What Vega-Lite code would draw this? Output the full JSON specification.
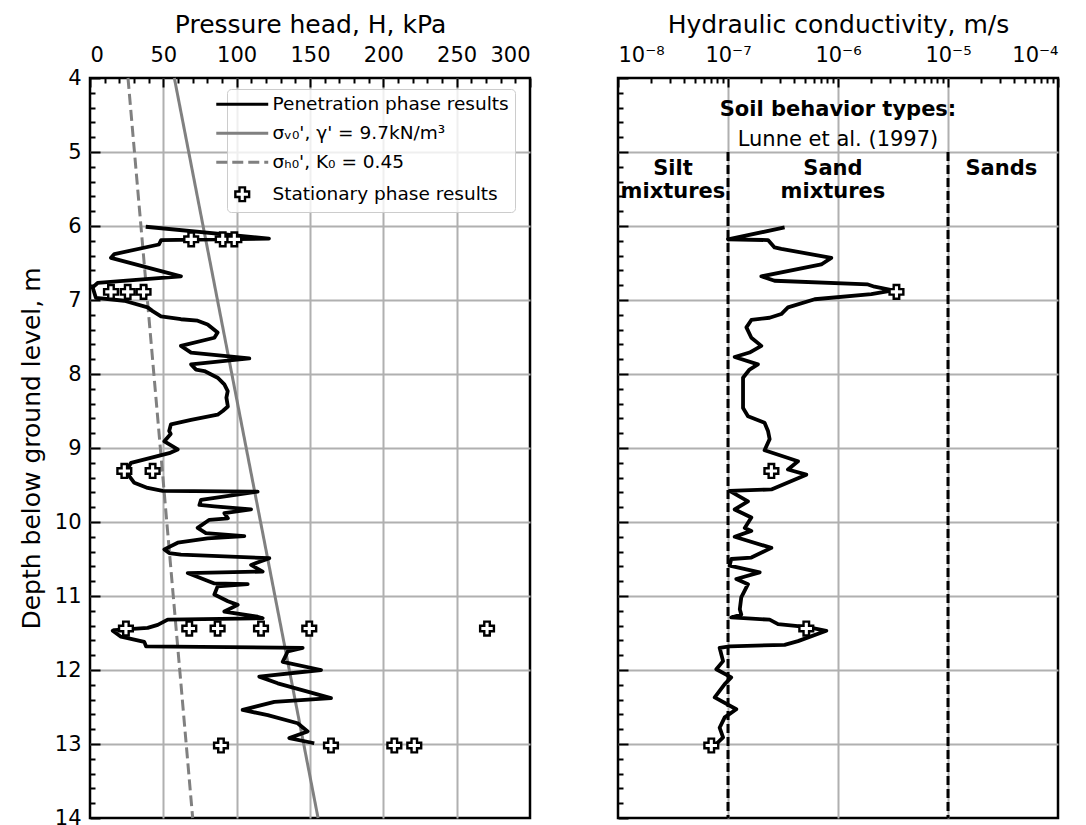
{
  "$schema": "https://vega.github.io/schema/vega-lite/v6.json",
  "padding": {"left": 18, "top": 10, "right": 5, "bottom": 5},
  "background": "white",
  "spacing": 82,
  "config": {
    "font": "DejaVu Sans",
    "view": {"stroke": "black", "strokeWidth": 2.5},
    "axis": {
      "labelFont": "DejaVu Sans", "labelFontSize": 21, "labelColor": "black",
      "titleFont": "DejaVu Sans", "titleFontSize": 25, "titleFontWeight": "normal", "titleColor": "black",
      "ticks": true, "tickColor": "black", "tickWidth": 2, "tickOpacity": 1, "gridColor": "#b0b0b0", "gridWidth": 2,
      "domain": false, "labelOverlap": false, "labelBound": false
    }
  },
  "resolve": {"scale": {"stroke": "independent"}, "legend": {"stroke": "independent"}},
  "datasets": {
    "pen": [
      {"H":38,"d":6.01},{"H":122,"d":6.17},{"H":48.5,"d":6.19},{"H":47,"d":6.25},{"H":16.6,"d":6.38},{"H":14.3,"d":6.43},
      {"H":62,"d":6.68},{"H":5.2,"d":6.77},{"H":1.8,"d":6.83},{"H":4,"d":6.97},{"H":23.4,"d":7.01},{"H":39.3,"d":7.10},
      {"H":42.7,"d":7.15},{"H":48.4,"d":7.22},{"H":62,"d":7.26},{"H":73.4,"d":7.28},{"H":80.2,"d":7.33},{"H":87,"d":7.44},
      {"H":84.8,"d":7.51},{"H":62,"d":7.62},{"H":68.9,"d":7.71},{"H":108.6,"d":7.79},{"H":68.9,"d":7.87},{"H":72.3,"d":7.94},
      {"H":78,"d":7.96},{"H":87,"d":8.05},{"H":91.6,"d":8.14},{"H":93.9,"d":8.23},{"H":93,"d":8.32},{"H":94,"d":8.44},
      {"H":90.5,"d":8.50},{"H":87,"d":8.55},{"H":68.9,"d":8.62},{"H":55.2,"d":8.68},{"H":54,"d":8.77},{"H":55,"d":8.81},
      {"H":50.7,"d":8.91},{"H":59.8,"d":9.02},{"H":54,"d":9.07},{"H":28,"d":9.20},{"H":24.5,"d":9.32},{"H":30.2,"d":9.47},
      {"H":39.3,"d":9.54},{"H":49.5,"d":9.58},{"H":114.3,"d":9.59},{"H":75.7,"d":9.70},{"H":74.6,"d":9.77},{"H":84.8,"d":9.79},
      {"H":109.8,"d":9.83},{"H":91.6,"d":9.88},{"H":94,"d":9.95},{"H":81.4,"d":9.97},{"H":73.4,"d":10.08},{"H":79,"d":10.15},
      {"H":105.2,"d":10.19},{"H":80.2,"d":10.22},{"H":59.8,"d":10.28},{"H":50.7,"d":10.37},{"H":54,"d":10.42},{"H":62,"d":10.44},
      {"H":122.3,"d":10.49},{"H":109.8,"d":10.58},{"H":117.7,"d":10.67},{"H":66.6,"d":10.69},{"H":84.8,"d":10.83},{"H":107.5,"d":10.84},
      {"H":87,"d":10.87},{"H":84.8,"d":10.98},{"H":94,"d":11.07},{"H":100.7,"d":11.12},{"H":91.6,"d":11.21},{"H":114.3,"d":11.28},
      {"H":117.7,"d":11.30},{"H":53,"d":11.32},{"H":46.2,"d":11.39},{"H":39.3,"d":11.43},{"H":16.6,"d":11.46},{"H":15.5,"d":11.47},
      {"H":21.1,"d":11.55},{"H":37,"d":11.62},{"H":38.2,"d":11.68},{"H":145,"d":11.70},{"H":134.8,"d":11.75},{"H":131.4,"d":11.89},
      {"H":157.5,"d":12.00},{"H":115.4,"d":12.09},{"H":128,"d":12.18},{"H":164.3,"d":12.38},{"H":125.7,"d":12.43},{"H":104.1,"d":12.54},
      {"H":121.2,"d":12.61},{"H":141.6,"d":12.72},{"H":148.4,"d":12.83},{"H":135.9,"d":12.92},{"H":152.9,"d":12.99}
    ],
    "sv": [{"H":57.5,"d":4},{"H":155.5,"d":14}],
    "sh": [{"H":25.9,"d":4},{"H":70,"d":14}],
    "crossL": [
      {"H":69,"d":6.18},{"H":90.5,"d":6.18},{"H":98.4,"d":6.18},
      {"H":14.3,"d":6.89},{"H":25.7,"d":6.89},{"H":36.5,"d":6.89},
      {"H":23.4,"d":9.31},{"H":42.7,"d":9.31},
      {"H":24.5,"d":11.44},{"H":67.7,"d":11.44},{"H":87,"d":11.44},{"H":116.6,"d":11.44},{"H":149.5,"d":11.44},{"H":270.7,"d":11.44},
      {"H":89.3,"d":13.02},{"H":164.3,"d":13.02},{"H":207.5,"d":13.02},{"H":221.1,"d":13.02}
    ],
    "kcurve": [
      {"k":3.27e-7,"d":6.02},{"k":1.0e-7,"d":6.18},{"k":2.31e-7,"d":6.19},{"k":2.65e-7,"d":6.29},{"k":3.05e-7,"d":6.31},
      {"k":8.69e-7,"d":6.43},{"k":7.05e-7,"d":6.52},{"k":2.01e-7,"d":6.68},{"k":2.65e-7,"d":6.74},{"k":1.87e-6,"d":6.79},
      {"k":2.15e-6,"d":6.82},{"k":3.16e-6,"d":6.87},{"k":2.01e-6,"d":6.92},{"k":6.14e-7,"d":6.99},{"k":3.51e-7,"d":7.10},
      {"k":3.05e-7,"d":7.19},{"k":2.39e-7,"d":7.24},{"k":1.63e-7,"d":7.27},{"k":1.47e-7,"d":7.37},{"k":1.63e-7,"d":7.51},
      {"k":2.01e-7,"d":7.62},{"k":1.57e-7,"d":7.71},{"k":1.15e-7,"d":7.77},{"k":1.87e-7,"d":7.87},{"k":1.57e-7,"d":7.94},
      {"k":1.37e-7,"d":8.05},{"k":1.37e-7,"d":8.27},{"k":1.37e-7,"d":8.46},{"k":1.52e-7,"d":8.57},{"k":2.15e-7,"d":8.66},
      {"k":2.31e-7,"d":8.77},{"k":2.39e-7,"d":8.88},{"k":2.15e-7,"d":9.03},{"k":4.33e-7,"d":9.18},{"k":3.51e-7,"d":9.29},
      {"k":5.15e-7,"d":9.36},{"k":2.48e-7,"d":9.56},{"k":1.035e-7,"d":9.58},{"k":1.52e-7,"d":9.72},{"k":1.15e-7,"d":9.83},
      {"k":1.63e-7,"d":9.94},{"k":1.42e-7,"d":10.08},{"k":1.63e-7,"d":10.12},{"k":1.15e-7,"d":10.20},{"k":2.48e-7,"d":10.35},
      {"k":1.63e-7,"d":10.48},{"k":1.07e-7,"d":10.50},{"k":1.035e-7,"d":10.59},{"k":1.94e-7,"d":10.68},{"k":1.19e-7,"d":10.77},
      {"k":1.52e-7,"d":10.84},{"k":1.32e-7,"d":11.02},{"k":1.28e-7,"d":11.18},{"k":1.32e-7,"d":11.25},{"k":1.07e-7,"d":11.29},
      {"k":2.39e-7,"d":11.32},{"k":2.85e-7,"d":11.38},{"k":5.33e-7,"d":11.42},{"k":7.83e-7,"d":11.47},{"k":4.33e-7,"d":11.61},
      {"k":3.27e-7,"d":11.66},{"k":1.035e-7,"d":11.68},{"k":8.39e-8,"d":11.70},{"k":9.02e-8,"d":11.88},{"k":7.83e-8,"d":11.99},
      {"k":1.07e-7,"d":12.10},{"k":9.33e-8,"d":12.19},{"k":7.57e-8,"d":12.37},{"k":1.19e-7,"d":12.53},{"k":9.33e-8,"d":12.64},
      {"k":8.39e-8,"d":12.78},{"k":9.02e-8,"d":12.91},{"k":7.83e-8,"d":13.0}
    ],
    "crossR": [{"k":3.4e-6,"d":6.89},{"k":2.48e-7,"d":9.31},{"k":5.15e-7,"d":11.44},{"k":7.05e-8,"d":13.02}],
    "bounds": [{"k":1e-7,"d":5,"d2":14},{"k":1e-5,"d":5,"d2":14}],
    "txtBold": [
      {"k":1e-6,"d":4.52,"t":"Soil behavior types:"},
      {"k":3.16e-8,"d":5.315,"t":"Silt\nmixtures"},
      {"k":9e-7,"d":5.315,"t":"Sand\nmixtures"},
      {"k":3.05e-5,"d":5.315,"t":"Sands"}
    ],
    "txtNorm": [{"k":1e-6,"d":4.92,"t":"Lunne et al. (1997)"}]
  },
  "hconcat": [
    {
      "width": 440, "height": 740,
      "resolve": {"axis": {"x": "independent", "y": "independent"}},
      "layer": [
        {
          "data": {"name": "sv"},
          "mark": {"type": "line", "strokeWidth": 3},
          "encoding": {
            "x": {"field": "H", "type": "quantitative",
              "scale": {"domain": [0, 300], "nice": false, "zero": false},
              "axis": {"orient": "top", "offset": -9, "tickSize": 9, "title": "Pressure head, H, kPa", "titlePadding": 7,
                "values": [0,50,100,150,200,250,300], "labelPadding": 13,
                "gridOpacity": {"condition": {"test": "datum.value > 0 && datum.value < 300", "value": 1}, "value": 0}}},
            "y": {"field": "d", "type": "quantitative",
              "scale": {"domain": [4, 14], "reverse": true, "nice": false, "zero": false},
              "axis": {"orient": "left", "offset": -10, "tickSize": 10, "title": "Depth below ground level, m", "titlePadding": 10,
                "values": [4,5,6,7,8,9,10,11,12,13,14], "format": "d", "labelPadding": 9,
                "gridOpacity": {"condition": {"test": "datum.value > 4.5 && datum.value < 13.5", "value": 1}, "value": 0}}},
            "stroke": {"datum": "σᵥ₀', γ' = 9.7kN/m³",
              "scale": {"domain": ["Penetration phase results", "σᵥ₀', γ' = 9.7kN/m³", "σₕ₀', K₀ = 0.45", "Stationary phase results"],
                        "range": ["black", "#808080", "#808080", "black"]},
              "legend": {"orient": "none", "legendX": 137, "legendY": 11, "title": null,
                "labelFont": "DejaVu Sans", "labelFontSize": 18.5, "labelColor": "black", "labelOffset": 21, "labelLimit": 500,
                "symbolSize": 1700, "symbolStrokeWidth": 3, "symbolType": "stroke",
                "fillColor": "rgba(255,255,255,0.8)", "strokeColor": "#cccccc", "cornerRadius": 4, "padding": 6,
                "rowPadding": 10,
                "encode": {"symbols": {"update": {
                  "shape": {"signal": "datum.index === 3 ? 'cross' : 'stroke'"},
                  "size": {"signal": "datum.index === 3 ? 190 : 2700"},
                  "fill": {"signal": "datum.index === 3 ? 'white' : 'transparent'"},
                  "strokeWidth": {"signal": "datum.index === 3 ? 2.4 : 3"},
                  "strokeDash": {"signal": "datum.index === 2 ? [11,5] : [1,0]"}
                }}}}
            }
          }
        },
        {
          "data": {"name": "sh"},
          "mark": {"type": "line", "strokeWidth": 3, "strokeDash": [11, 5]},
          "encoding": {
            "x": {"field": "H", "type": "quantitative",
              "scale": {"domain": [0, 300], "nice": false, "zero": false},
              "axis": {"orient": "bottom", "offset": -740, "tickSize": 5, "labels": false, "grid": false, "title": null,
                "values": [10,20,30,40,60,70,80,90,110,120,130,140,160,170,180,190,210,220,230,240,260,270,280,290]}},
            "y": {"field": "d", "type": "quantitative",
              "scale": {"domain": [4, 14], "reverse": true, "nice": false, "zero": false},
              "axis": {"orient": "right", "offset": -440, "tickSize": 5, "labels": false, "grid": false, "title": null,
                "values": [4.2,4.4,4.6,4.8,5.2,5.4,5.6,5.8,6.2,6.4,6.6,6.8,7.2,7.4,7.6,7.8,8.2,8.4,8.6,8.8,9.2,9.4,9.6,9.8,10.2,10.4,10.6,10.8,11.2,11.4,11.6,11.8,12.2,12.4,12.6,12.8,13.2,13.4,13.6,13.8]}},
            "stroke": {"datum": "σₕ₀', K₀ = 0.45"}
          }
        },
        {
          "data": {"name": "pen"},
          "mark": {"type": "line", "strokeWidth": 3.8, "strokeJoin": "round"},
          "encoding": {
            "x": {"field": "H", "type": "quantitative", "axis": null},
            "y": {"field": "d", "type": "quantitative", "axis": null},
            "stroke": {"datum": "Penetration phase results"}, "order": {"field": "d"}}
        },
        {
          "data": {"name": "crossL"},
          "mark": {"type": "point", "shape": "cross", "filled": true, "fill": "white", "size": 190, "strokeWidth": 2.4, "opacity": 1},
          "encoding": {
            "x": {"field": "H", "type": "quantitative", "axis": null},
            "y": {"field": "d", "type": "quantitative", "axis": null},
            "stroke": {"datum": "Stationary phase results"}}
        }
      ]
    },
    {
      "width": 440, "height": 740,
      "resolve": {"axis": {"x": "independent", "y": "independent"}},
      "layer": [
        {
          "data": {"name": "bounds"},
          "mark": {"type": "rule", "color": "black", "strokeWidth": 3, "strokeDash": [9, 4]},
          "encoding": {
            "x": {"field": "k", "type": "quantitative",
              "scale": {"type": "log", "domain": [1e-8, 1e-4], "nice": false},
              "axis": {"orient": "top", "offset": -9, "tickSize": 9, "title": "Hydraulic conductivity, m/s", "titlePadding": 7,
                "values": [1e-8,1e-7,1e-6,1e-5,1e-4], "labelPadding": 13,
                "labelExpr": "'10' + ['⁻⁸','⁻⁷','⁻⁶','⁻⁵','⁻⁴'][round(log(datum.value)/LN10) + 8]",
                "gridOpacity": {"condition": {"test": "datum.value > 5e-8 && datum.value < 5e-5", "value": 1}, "value": 0}}},
            "y": {"field": "d", "type": "quantitative",
              "scale": {"domain": [4, 14], "reverse": true, "nice": false, "zero": false},
              "axis": {"orient": "left", "offset": -10, "tickSize": 10, "title": null, "labels": false,
                "values": [4,5,6,7,8,9,10,11,12,13,14],
                "gridOpacity": {"condition": {"test": "datum.value > 4.5 && datum.value < 13.5", "value": 1}, "value": 0}}},
            "y2": {"field": "d2"}
          }
        },
        {
          "data": {"name": "kcurve"},
          "mark": {"type": "line", "color": "black", "strokeWidth": 3.8, "strokeJoin": "round"},
          "encoding": {
            "x": {"field": "k", "type": "quantitative",
              "scale": {"type": "log", "domain": [1e-8, 1e-4], "nice": false},
              "axis": {"orient": "bottom", "offset": -740, "tickSize": 5, "labels": false, "grid": false, "title": null,
                "values": [2e-8,3e-8,4e-8,5e-8,6e-8,7e-8,8e-8,9e-8,2e-7,3e-7,4e-7,5e-7,6e-7,7e-7,8e-7,9e-7,2e-6,3e-6,4e-6,5e-6,6e-6,7e-6,8e-6,9e-6,2e-5,3e-5,4e-5,5e-5,6e-5,7e-5,8e-5,9e-5]}},
            "y": {"field": "d", "type": "quantitative",
              "scale": {"domain": [4, 14], "reverse": true, "nice": false, "zero": false},
              "axis": {"orient": "right", "offset": -440, "tickSize": 5, "labels": false, "grid": false, "title": null,
                "values": [4.2,4.4,4.6,4.8,5.2,5.4,5.6,5.8,6.2,6.4,6.6,6.8,7.2,7.4,7.6,7.8,8.2,8.4,8.6,8.8,9.2,9.4,9.6,9.8,10.2,10.4,10.6,10.8,11.2,11.4,11.6,11.8,12.2,12.4,12.6,12.8,13.2,13.4,13.6,13.8]}},
            "order": {"field": "d"}
          }
        },
        {
          "data": {"name": "crossR"},
          "mark": {"type": "point", "shape": "cross", "filled": true, "fill": "white", "stroke": "black", "size": 190, "strokeWidth": 2.4, "opacity": 1},
          "encoding": {
            "x": {"field": "k", "type": "quantitative", "axis": null},
            "y": {"field": "d", "type": "quantitative", "axis": null}}
        },
        {
          "data": {"name": "txtBold"},
          "mark": {"type": "text", "font": "DejaVu Sans", "fontSize": 21, "fontWeight": "bold", "color": "black", "align": "center", "baseline": "alphabetic", "lineBreak": "\n", "lineHeight": 22.5},
          "encoding": {
            "x": {"field": "k", "type": "quantitative", "axis": null},
            "y": {"field": "d", "type": "quantitative", "axis": null},
            "text": {"field": "t"}}
        },
        {
          "data": {"name": "txtNorm"},
          "mark": {"type": "text", "font": "DejaVu Sans", "fontSize": 21, "color": "black", "align": "center", "baseline": "alphabetic"},
          "encoding": {
            "x": {"field": "k", "type": "quantitative", "axis": null},
            "y": {"field": "d", "type": "quantitative", "axis": null},
            "text": {"field": "t"}}
        }
      ]
    }
  ]
}
